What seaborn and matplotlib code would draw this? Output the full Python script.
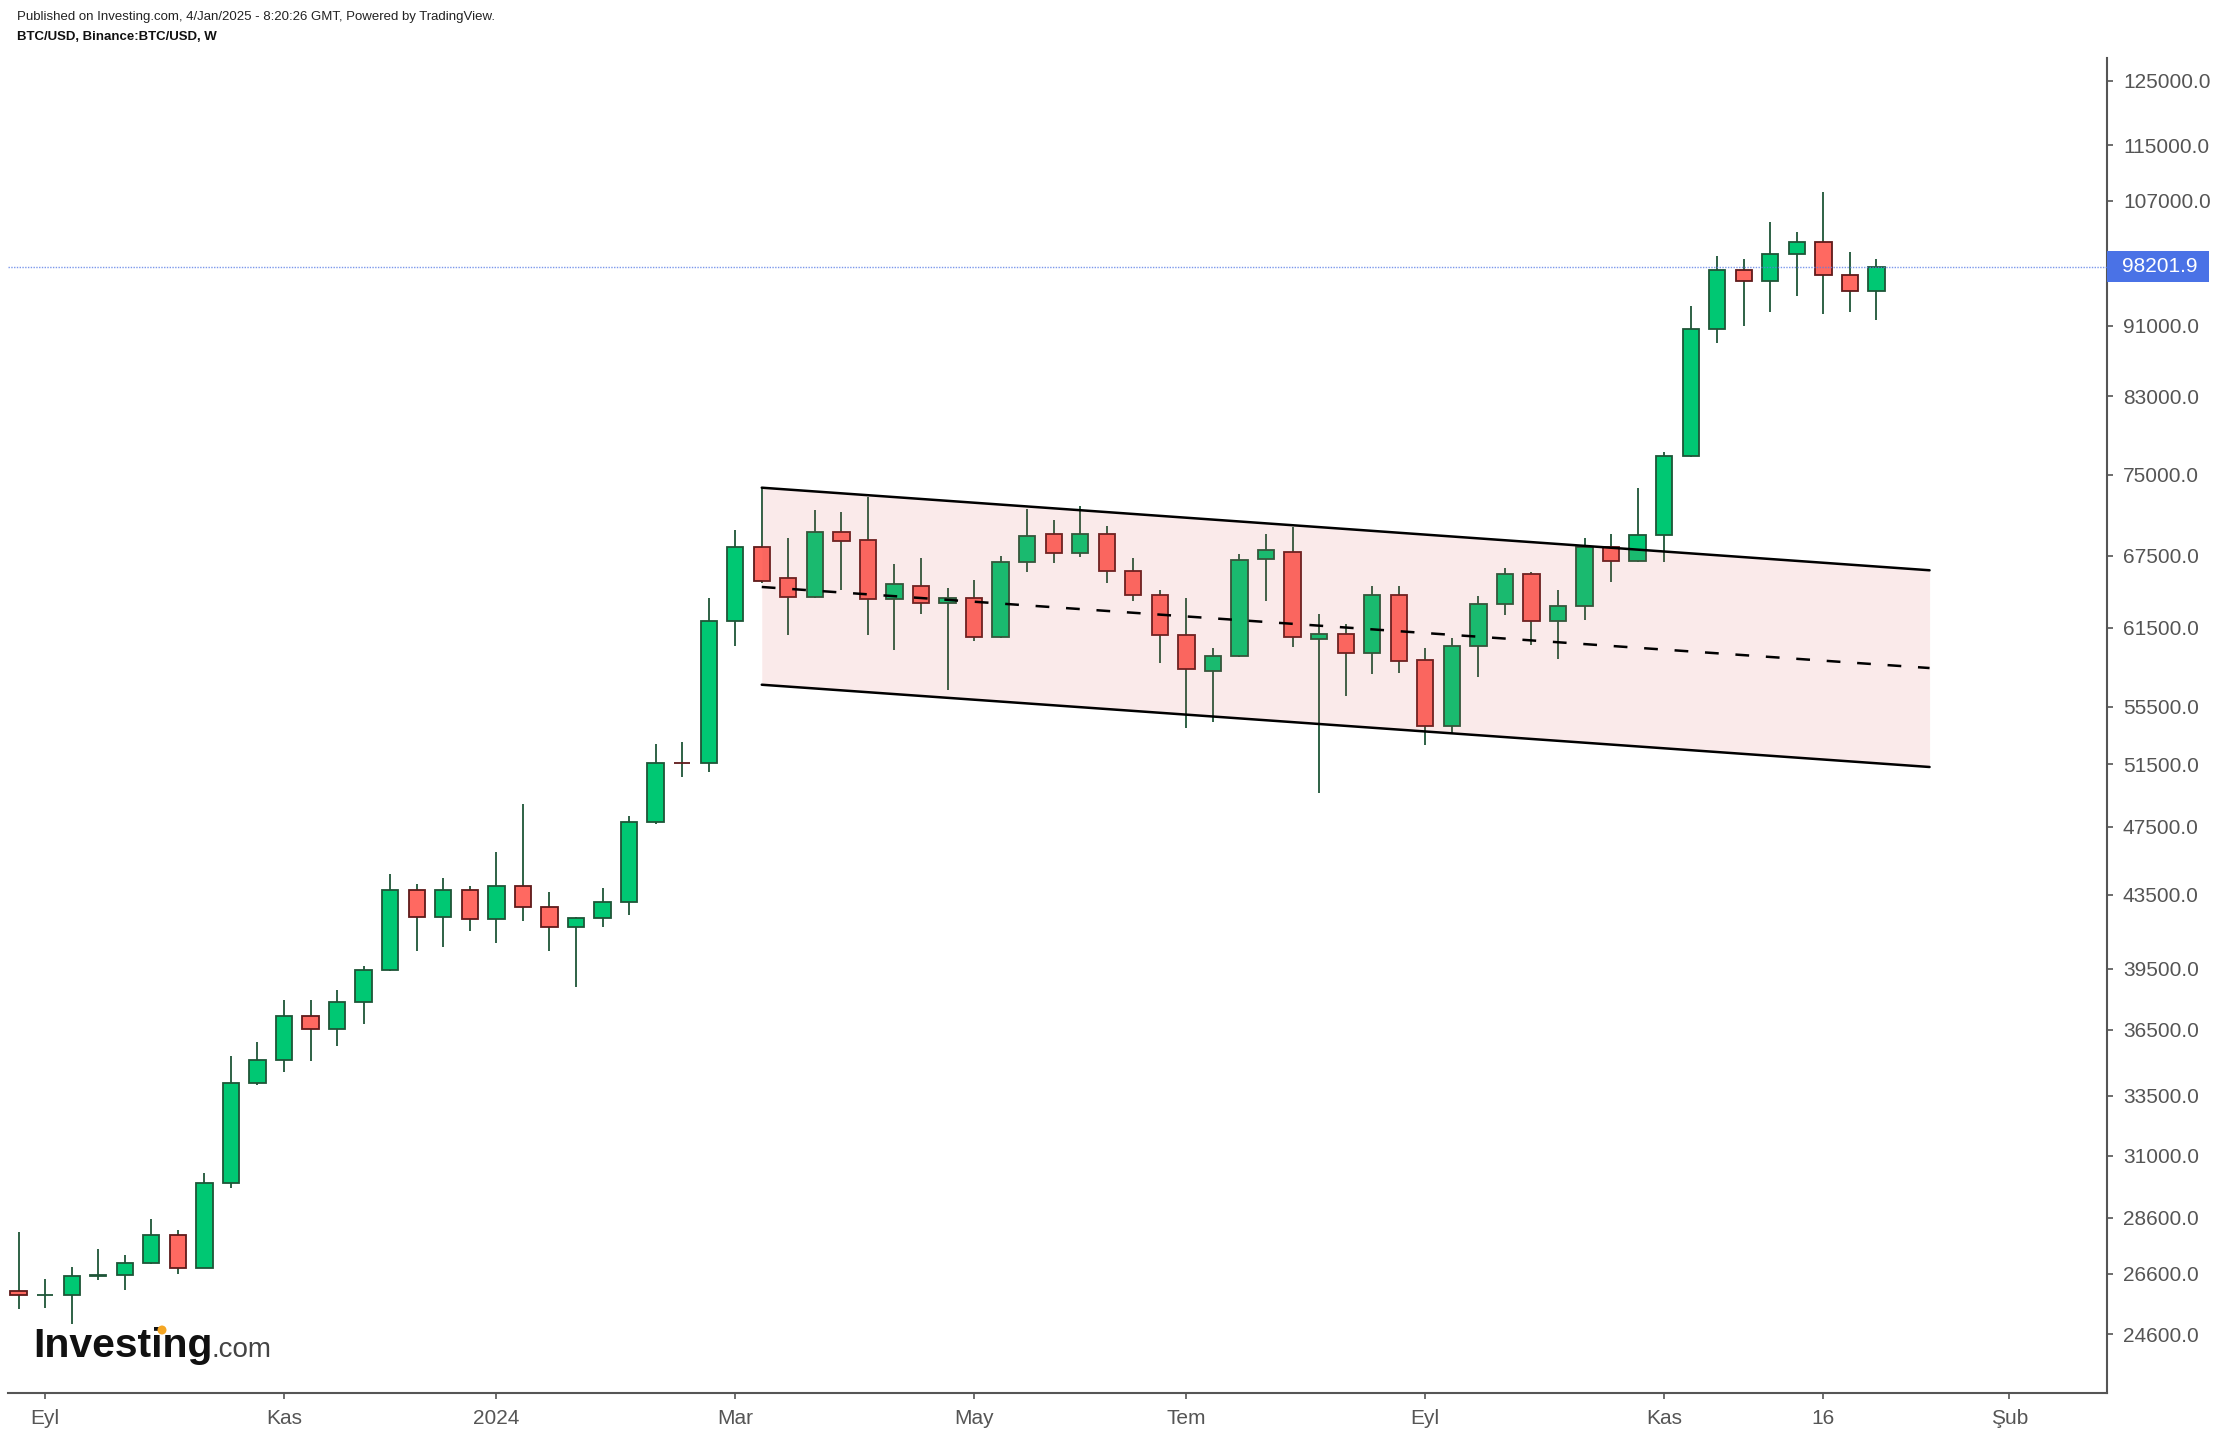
import matplotlib
matplotlib.use('Agg')
import matplotlib.pyplot as plt
import matplotlib.dates as mdates
from matplotlib.patches import Rectangle, Ellipse
from matplotlib.ticker import FixedLocator, FixedFormatter, NullLocator
from matplotlib.transforms import blended_transform_factory
import numpy as np
import pandas as pd
import seaborn as sns

# weekly BTC/USD bars (Binance), week starting Monday
weeks = pd.date_range('2023-08-28', '2024-12-30', freq='W-MON')

opens = [26000, 25865, 25870, 26540, 26550, 26970, 27970, 26810, 29930, 34090,
         35080, 37140, 36540, 37830, 39430, 43750, 42260, 43750, 42150, 43970,
         42830, 41730, 42190, 43080, 47770, 51620, 51580, 62060, 68310, 65550,
         64010, 69580, 68860, 63820, 64900, 63490, 63870, 60750, 66930, 69400,
         67750, 69400, 66150, 64150, 60920, 58140, 59260, 67250, 67800, 60620,
         60960, 59540, 64200, 58980, 54160, 60050, 63380, 65890, 62030, 63220,
         68280, 67070, 69370, 76800, 90650, 97810, 96470, 99810, 101430, 97190,
         95190]
highs = [28070, 26430, 26840, 27470, 27260, 28570, 28150, 30310, 35290, 35920,
         37940, 37940, 38460, 39670, 44700, 44130, 44470, 44010, 45970, 48930,
         43660, 42260, 43870, 48160, 52880, 53000, 63900, 69840, 73730, 69080,
         71660, 71490, 72860, 66780, 67300, 64740, 65440, 67450, 71760, 70710,
         72040, 70190, 67300, 64600, 63900, 59900, 67660, 69460, 70070, 62620,
         61810, 64930, 64930, 59900, 60690, 64100, 66440, 66110, 64580, 69080,
         69420, 73730, 77230, 93350, 99650, 99140, 104100, 102790, 108250, 100160,
         99140]
lows = [25400, 25450, 24930, 26390, 26050, 26950, 26600, 26800, 29730, 33980,
        34580, 35040, 35760, 36800, 39400, 40420, 40630, 41480, 40850, 42020,
        40420, 38600, 41730, 42360, 47700, 50640, 51020, 60090, 65160, 60880,
        63900, 64600, 60880, 59760, 62620, 56730, 60410, 60700, 66120, 66860,
        67370, 65130, 63650, 58740, 54020, 54420, 59200, 63650, 60000, 49630,
        56310, 57940, 57960, 52800, 53670, 57660, 62510, 60120, 59020, 62150,
        65270, 67000, 67000, 76700, 88940, 91000, 92660, 94600, 92420, 92660,
        91700]
closes = [25865, 25870, 26540, 26550, 26970, 27970, 26810, 29930, 34090, 35080,
          37140, 36540, 37830, 39430, 43750, 42260, 43750, 42150, 43970, 42830,
          41730, 42190, 43080, 47770, 51620, 51580, 62060, 68310, 65330, 64010,
          69580, 68830, 63820, 65040, 63490, 63870, 60750, 66930, 69220, 67750,
          69400, 66150, 64150, 60920, 58290, 59260, 67100, 67980, 60750, 60960,
          59540, 64200, 58900, 54160, 60050, 63380, 65890, 62030, 63220, 68280,
          67070, 69370, 76800, 90650, 97810, 96470, 99810, 101430, 97190, 95190,
          98201.9]
last_price = 98201.9

# descending channel drawn on the chart
channel_dates = ['2024-03-11', '2025-01-13']
channel_upper = [73740, 66250]
channel_mid = [64830, 58360]
channel_lower = [57110, 51330]

y_ticks = [24600, 26600, 28600, 31000, 33500, 36500, 39500, 43500, 47500, 51500,
           55500, 61500, 67500, 75000, 83000, 91000, 107000, 115000, 125000]
x_tick_dates = ['2023-09-04', '2023-11-06', '2024-01-01', '2024-03-04', '2024-05-06',
                '2024-07-01', '2024-09-02', '2024-11-04', '2024-12-16', '2025-02-03']
x_tick_labels = ['Eyl', 'Kas', '2024', 'Mar', 'May', 'Tem', 'Eyl', 'Kas', '16', 'Şub']

UP, DOWN = '#00C873', '#FF6961'
UP_EDGE, DOWN_EDGE = '#1E5537', '#5F1A1A'
AXIS_GREY = '#555555'


def setup_style():
    sns.set_style('ticks')
    plt.rcParams['font.family'] = ['Liberation Sans', 'DejaVu Sans']


def draw_candles(ax):
    x = mdates.date2num(weeks.to_pydatetime())
    o, h, l, c = map(np.asarray, (opens, highs, lows, closes))
    up = c >= o
    ax.vlines(x, l, h, color=UP_EDGE, lw=1.3, zorder=2)
    bottom = np.minimum(o, c)
    height = np.abs(c - o)
    ax.bar(x[up], height[up], bottom=bottom[up], width=4.3,
           color=UP, edgecolor=UP_EDGE, linewidth=1.3, zorder=3)
    ax.bar(x[~up], height[~up], bottom=bottom[~up], width=4.3,
           color=DOWN, edgecolor=DOWN_EDGE, linewidth=1.3, zorder=3)


def draw_channel(ax):
    cx = mdates.date2num(pd.to_datetime(channel_dates).to_pydatetime())
    ax.fill_between(cx, channel_lower, channel_upper, color='#DE5858',
                    alpha=0.12, lw=0, zorder=4)
    sns.lineplot(x=cx, y=channel_upper, ax=ax, color='black', lw=1.8, zorder=5)
    sns.lineplot(x=cx, y=channel_lower, ax=ax, color='black', lw=1.8, zorder=5)
    sns.lineplot(x=cx, y=channel_mid, ax=ax, color='black', lw=1.8,
                 linestyle=(0, (5.5, 6.7)), zorder=5)


setup_style()
fig = plt.figure(figsize=(22.30, 14.36), dpi=100)
ax = fig.add_axes([8 / 2230, 43 / 1436, 2099 / 2230, 1335 / 1436])

draw_candles(ax)
draw_channel(ax)

# last price line and label
ax.axhline(last_price, color='#5A7FE6', lw=1.0, ls=(0, (1, 1)), alpha=0.8, zorder=6)
trans = blended_transform_factory(ax.transAxes, ax.transData)
ax.add_patch(Rectangle((1.0, last_price / 1.0205), 102 / 2099,
                       last_price * 1.0205 - last_price / 1.0205,
                       transform=trans, facecolor='#4A72E6', edgecolor='none',
                       clip_on=False, zorder=10))
ax.text(1.0 + 15 / 2099, last_price, f'{last_price:.1f}', transform=trans,
        color='white', fontsize=15, va='center', ha='left', zorder=11)

ax.set_yscale('log')
ax.set_ylim(22790, 128750)
start = mdates.date2num(pd.Timestamp('2023-08-28').to_pydatetime())
ax.set_xlim(start - 2.8, start + 550.8)

ax.yaxis.tick_right()
ax.yaxis.set_major_locator(FixedLocator(y_ticks))
ax.yaxis.set_major_formatter(FixedFormatter([f'{v:.1f}' for v in y_ticks]))
ax.yaxis.set_minor_locator(NullLocator())
xt = mdates.date2num(pd.to_datetime(x_tick_dates).to_pydatetime())
ax.set_xticks(xt)
ax.set_xticklabels(x_tick_labels)
ax.tick_params(axis='both', colors=AXIS_GREY, labelsize=15, length=4.5,
               width=1.2, pad=7)
ax.set_xlabel('')
ax.set_ylabel('')

for side in ('left', 'top'):
    ax.spines[side].set_visible(False)
for side in ('right', 'bottom'):
    ax.spines[side].set_color(AXIS_GREY)
    ax.spines[side].set_linewidth(1.5)

# header and watermark
fig.text(17 / 2230, 1 - 17 / 1436,
         'Published on Investing.com, 4/Jan/2025 - 8:20:26 GMT, Powered by TradingView.',
         fontsize=9.5, color='#222222', va='center', ha='left')
fig.text(17 / 2230, 1 - 37 / 1436, 'BTC/USD, Binance:BTC/USD, W',
         fontsize=9.5, fontweight='bold', color='#111111', va='center', ha='left')
fig.text(33 / 2230, 1 - 1357 / 1436, 'Investing', fontsize=29.5, fontweight='bold',
         color='#111111', va='baseline', ha='left')
fig.text(211 / 2230, 1 - 1357 / 1436, '.com', fontsize=20, color='#444444',
         va='baseline', ha='left')
fig.patches.append(Ellipse((162 / 2230, 1 - 1330 / 1436), 9 / 2230, 9 / 1436,
                           transform=fig.transFigure, facecolor='#F5A623',
                           edgecolor='none', zorder=20))

fig.savefig('out.png', dpi=100, facecolor='white')
